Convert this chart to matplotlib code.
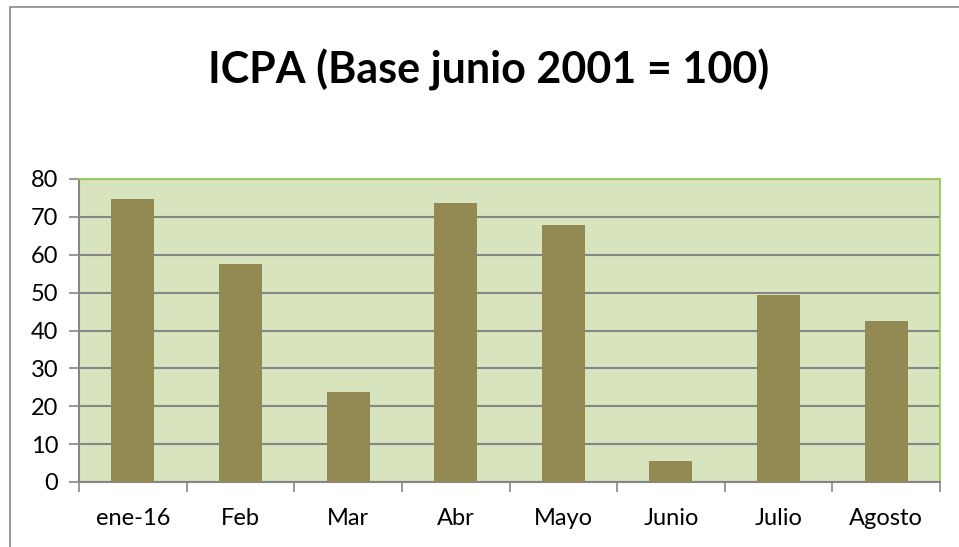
import matplotlib
matplotlib.use("Agg")
import matplotlib.pyplot as plt
from matplotlib.patches import Rectangle
import numpy as np

# data
MESES = ["ene-16", "Feb", "Mar", "Abr", "Mayo", "Junio", "Julio", "Agosto"]
ICPA = [74.7, 57.5, 23.8, 73.6, 67.8, 5.5, 49.4, 42.6]
Y_TICKS = [0, 10, 20, 30, 40, 50, 60, 70, 80]
TITULO = "ICPA (Base junio 2001 = 100)"

BAR = "#938953"
PLOT_BG = "#D7E4BD"
GRID = "#868686"
EDGE_GREEN = "#92D050"

plt.rcParams["font.family"] = ["Lato", "DejaVu Sans"]

W, H = 959, 547
fig = plt.figure(figsize=(W / 100, H / 100), dpi=100)

# outer chart frame (right/bottom edges fall outside the picture)
fig.patches.append(Rectangle((10 / W, -0.02), 1.0, 1 - 7 / H + 0.02,
                             transform=fig.transFigure, fill=False,
                             edgecolor="#888888", lw=1.2))

ax = fig.add_axes([79 / W, 1 - 482 / H, (940 - 79) / W, (482 - 179) / H])
ax.set_facecolor(PLOT_BG)

x = np.arange(len(MESES))
ax.bar(x, ICPA, width=0.4, color=BAR, zorder=3)

ax.set_xlim(-0.5, len(MESES) - 0.5)
ax.set_ylim(0, 80)
ax.set_yticks(Y_TICKS)
ax.yaxis.grid(True, color=GRID, lw=1.5, zorder=1)

ax.set_xticks(x)
ax.set_xticklabels(MESES, fontsize=17)
ax.tick_params(axis="x", length=0, pad=19)
ax.set_xticks(np.arange(-0.5, len(MESES)), minor=True)
ax.tick_params(axis="x", which="minor", length=7, width=1.2, color=GRID, direction="out")
ax.tick_params(axis="y", length=7, width=1.2, color=GRID, labelsize=17, pad=8)

for s in ("top", "right"):
    ax.spines[s].set_color(EDGE_GREEN)
    ax.spines[s].set_linewidth(1.3)
for s in ("left", "bottom"):
    ax.spines[s].set_color(GRID)
    ax.spines[s].set_linewidth(1.5)

fig.text(0.51, 1 - 70 / H, TITULO, ha="center", va="center",
         fontsize=31, fontweight="bold")

fig.savefig("out.png", dpi=100)
